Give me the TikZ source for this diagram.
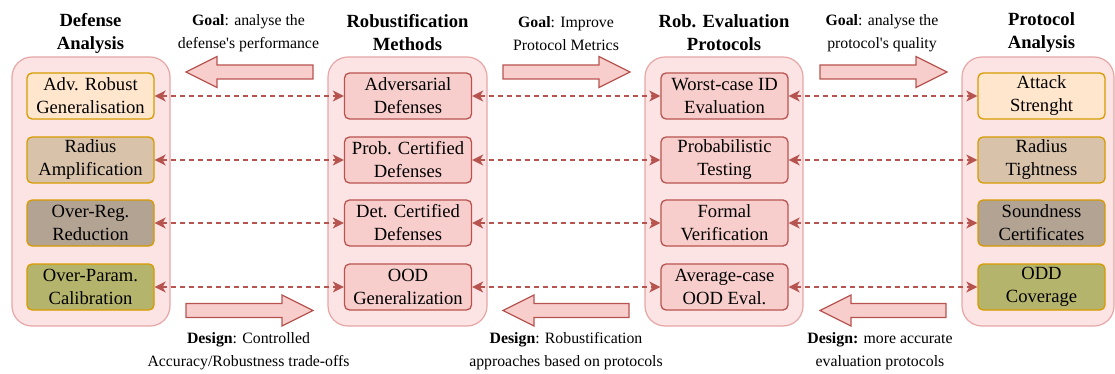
\documentclass[tikz,border=0pt]{standalone}
\usepackage{fontspec}
\setmainfont{Liberation Serif}[Ligatures=TeXOff]
\usetikzlibrary{arrows.meta}
\definecolor{redline}{HTML}{B85450}
\definecolor{redfill}{HTML}{F8CECC}
\definecolor{contfill}{HTML}{FCE4E4}
\definecolor{contline}{HTML}{E6A6A6}
\definecolor{orline}{HTML}{D79B00}
\definecolor{cA}{HTML}{FFE6CC}
\definecolor{cB}{HTML}{D8C3AA}
\definecolor{cC}{HTML}{B3A393}
\definecolor{cD}{HTML}{B5B46C}
\tikzset{
  container/.style={draw=contline, fill=contfill, line width=1.2pt, rounded corners=20pt},
  ibox/.style={rounded corners=5pt, line width=1.3pt, minimum width=127pt, minimum height=46pt, inner sep=0pt, align=center, font=\fontsize{18.6}{23}\selectfont},
  redbox/.style={ibox, draw=redline, fill=redfill},
  orbox/.style={ibox, draw=orline},
  title/.style={align=center, font=\bfseries\fontsize{18.6}{23}\selectfont, inner sep=0pt},
  lab/.style={align=center, font=\fontsize{15.8}{23}\selectfont, inner sep=0pt},
  link/.style={draw=redline, line width=1.3pt, dash pattern=on 5pt off 4pt, {Stealth[length=11pt,width=11pt,inset=3pt]}-{Stealth[length=11pt,width=11pt,inset=3pt]}},
  barrow/.style={draw=redline, fill=redfill, line width=1.2pt}
}
\newcommand\blockRight[3]{% tail x, tip x, y
  \draw[barrow] (#1,#3-7) -- (#2-31,#3-7) -- (#2-31,#3-15.5) -- (#2,#3) -- (#2-31,#3+15.5) -- (#2-31,#3+7) -- (#1,#3+7) -- cycle;}
\newcommand\blockLeft[3]{% tail x, tip x, y
  \draw[barrow] (#1,#3-7) -- (#2+31,#3-7) -- (#2+31,#3-15.5) -- (#2,#3) -- (#2+31,#3+15.5) -- (#2+31,#3+7) -- (#1,#3+7) -- cycle;}
\begin{document}
\begin{tikzpicture}[x=1pt,y=-1pt]
\useasboundingbox (0,0) rectangle (1115,374);
% containers
\draw[container] (12,57) rectangle (170,326);
\draw[container] (328,57) rectangle (487,326);
\draw[container] (645,57) rectangle (803,326);
\draw[container] (962,57) rectangle (1114,326);
% titles
\node[title] (t1) at (90.5,33) {Defense\\Analysis};
\node[title] (t2) at (407.5,33) {Robustification\\Methods};
\node[title] (t3) at (724,33) {Rob. Evaluation\\Protocols};
\node[title] (t4) at (1041.5,33) {Protocol\\Analysis};
% column 1
\node[orbox, fill=cA] (a1) at (90.5,96) {Adv. Robust\\Generalisation};
\node[orbox, fill=cB] (a2) at (90.5,160) {Radius\\Amplification};
\node[orbox, fill=cC] (a3) at (90.5,223) {Over-Reg.\\Reduction};
\node[orbox, fill=cD] (a4) at (90.5,287) {Over-Param.\\Calibration};
% column 2
\node[redbox] (b1) at (408,96) {Adversarial\\Defenses};
\node[redbox] (b2) at (408,160) {Prob. Certified\\Defenses};
\node[redbox] (b3) at (408,223) {Det. Certified\\Defenses};
\node[redbox] (b4) at (408,287) {OOD\\Generalization};
% column 3
\node[redbox] (c1) at (724.5,96) {Worst-case ID\\Evaluation};
\node[redbox] (c2) at (724.5,160) {Probabilistic\\Testing};
\node[redbox] (c3) at (724.5,223) {Formal\\Verification};
\node[redbox] (c4) at (724.5,287) {Average-case\\OOD Eval.};
% column 4
\node[orbox, fill=cA] (d1) at (1041.5,96) {Attack\\Strenght};
\node[orbox, fill=cB] (d2) at (1041.5,160) {Radius\\Tightness};
\node[orbox, fill=cC] (d3) at (1041.5,223) {Soundness\\Certificates};
\node[orbox, fill=cD] (d4) at (1041.5,287) {ODD\\Coverage};
% dashed links
\foreach \i in {1,2,3,4}{
  \draw[link] (a\i.east) -- (b\i.west);
  \draw[link] (b\i.east) -- (c\i.west);
  \draw[link] (c\i.east) -- (d\i.west);
}
% block arrows
\blockLeft{313}{186}{72}
\blockRight{503}{630}{72}
\blockRight{820}{947}{72}
\blockRight{186}{313}{310.5}
\blockLeft{629}{503}{310.5}
\blockLeft{946}{820}{310.5}
% labels
\node[lab] (g1) at (248.5,33.5) {\textbf{Goal}: analyse the\\defense's performance};
\node[lab] (g2) at (566,33.5) {\textbf{Goal}: Improve\\Protocol Metrics};
\node[lab] (g3) at (882,33.5) {\textbf{Goal}: analyse the\\protocol's quality};
\node[lab] (h1) at (248.5,351) {\textbf{Design}: Controlled\\Accuracy/Robustness trade-offs};
\node[lab] (h2) at (566,351) {\textbf{Design}: Robustification\\approaches based on protocols};
\node[lab] (h3) at (880,351) {\textbf{Design:} more accurate\\evaluation protocols};
\end{tikzpicture}
\end{document}
